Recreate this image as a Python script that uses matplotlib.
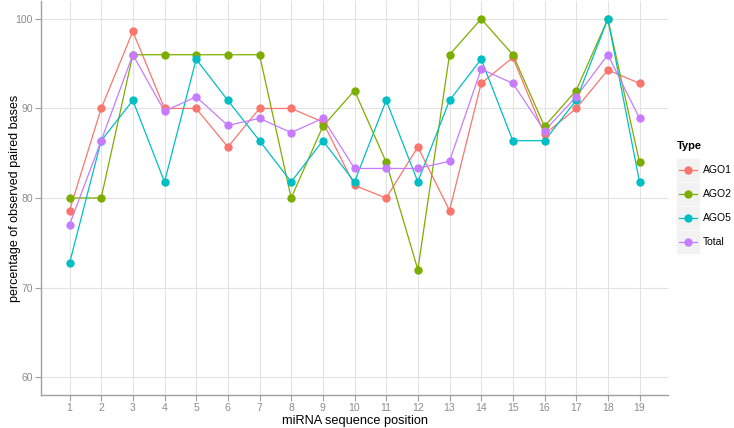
import matplotlib
matplotlib.use('Agg')
import matplotlib.pyplot as plt
from matplotlib.patches import Rectangle
from matplotlib.lines import Line2D

positions = list(range(1, 20))
ago1 = [78.6, 90.0, 98.6, 90.0, 90.0, 85.7, 90.0, 90.0, 88.5, 81.4,
        80.0, 85.7, 78.6, 92.8, 95.7, 87.1, 90.0, 94.3, 92.8]
ago2 = [80.0, 80.0, 96.0, 96.0, 96.0, 96.0, 96.0, 80.0, 88.0, 92.0,
        84.0, 72.0, 96.0, 100.0, 96.0, 88.0, 92.0, 100.0, 84.0]
ago5 = [72.7, 86.4, 90.9, 81.8, 95.5, 90.9, 86.4, 81.8, 86.4, 81.8,
        90.9, 81.8, 90.9, 95.5, 86.4, 86.4, 90.9, 100.0, 81.8]
total = [77.0, 86.4, 96.0, 89.7, 91.3, 88.1, 88.9, 87.3, 88.9, 83.3,
         83.3, 83.3, 84.1, 94.4, 92.8, 87.5, 91.3, 96.0, 88.9]

names = ['AGO1', 'AGO2', 'AGO5', 'Total']
series = [ago1, ago2, ago5, total]
colors = ['#F8766D', '#7CAE00', '#00BFC4', '#C77CFF']

plt.rcParams['font.family'] = ['Liberation Sans', 'DejaVu Sans']

W, H = 734, 428
fig = plt.figure(figsize=(W / 100, H / 100), dpi=100)
ax = fig.add_axes([41 / W, (H - 395) / H, (668 - 41) / W, 394 / H])

for vals, c in zip(series, colors):
    ax.plot(positions, vals, color=c, lw=0.9, zorder=2)
for vals, c in zip(series, colors):
    ax.plot(positions, vals, 'o', color=c, ms=6, mec='none', zorder=3)

ax.set_xlim(0.1, 19.9)
ax.set_ylim(58, 102)
ax.set_xticks(positions)
ax.set_yticks([60, 70, 80, 90, 100])
ax.grid(True, color='#E3E3E3', lw=0.8, zorder=0)
ax.set_axisbelow(True)
for s in ['top', 'right']:
    ax.spines[s].set_visible(False)
for s in ['left', 'bottom']:
    ax.spines[s].set_color('#A0A0A0')
    ax.spines[s].set_linewidth(1.0)
ax.tick_params(colors='#A0A0A0', labelcolor='#8C8C8C', labelsize=7.5,
               length=4, width=0.8, pad=2)
ax.set_xlabel('miRNA sequence position', fontsize=9.2, labelpad=1)
ax.set_ylabel('percentage of observed paired bases', fontsize=9, labelpad=0)
ax.yaxis.set_label_coords(-20 / (668 - 41), 0.5)

# legend drawn by hand (ggplot style grey key boxes)
def fx(px):
    return px / W

def fy(py):
    return (H - py) / H

fig.text(fx(677), fy(146), 'Type', fontsize=8, fontweight='bold', va='center', ha='left')
for i, (n, c) in enumerate(zip(names, colors)):
    yc = 170 + i * 24
    fig.patches.append(Rectangle((fx(677), fy(yc + 11)), 22 / W, 22 / H,
                                 transform=fig.transFigure, color='#F2F2F2', zorder=1))
    fig.lines.append(Line2D([fx(679), fx(697)], [fy(yc), fy(yc)], color=c, lw=0.9,
                            transform=fig.transFigure, zorder=2))
    fig.lines.append(Line2D([fx(688)], [fy(yc)], marker='o', color=c, ms=6, mec='none',
                            transform=fig.transFigure, zorder=3))
    fig.text(fx(703), fy(yc), n, fontsize=7.5, va='center', ha='left')

fig.savefig('out.png', dpi=100)
